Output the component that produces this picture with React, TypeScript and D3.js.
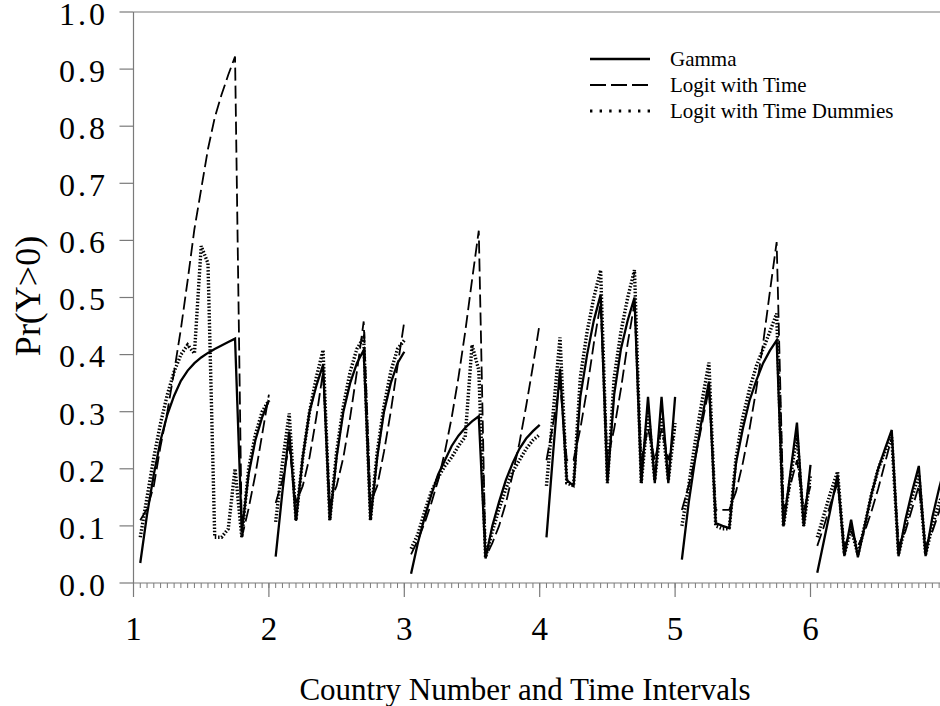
import React from "react";
import * as d3 from "d3";

// ---- data ----
const countries = [1, 2, 3, 4, 5, 6];
const intervals = [0.05, 0.1, 0.15, 0.2, 0.25, 0.3, 0.35, 0.4, 0.45, 0.5, 0.55, 0.6, 0.65, 0.7, 0.75, 0.8, 0.85, 0.9, 0.95, 1.0];

const gammaC1 = [0.035, 0.12, 0.19, 0.25, 0.295, 0.328, 0.354, 0.372, 0.385, 0.395, 0.403, 0.41, 0.416, 0.422, 0.428, 0.09, 0.19, 0.25, 0.29, 0.32];
const gammaC2 = [0.046, 0.16, 0.265, 0.109, 0.22, 0.3, 0.345, 0.382, 0.11, 0.22, 0.3, 0.35, 0.385, 0.408, 0.11, 0.22, 0.3, 0.35, 0.385, 0.405];
const gammaC3 = [0.016, 0.07, 0.115, 0.155, 0.19, 0.215, 0.24, 0.258, 0.272, 0.283, 0.292, 0.043, 0.1, 0.142, 0.18, 0.21, 0.235, 0.253, 0.266, 0.277];
const gammaC4 = [0.08, 0.23, 0.375, 0.18, 0.17, 0.326, 0.4, 0.46, 0.505, 0.175, 0.33, 0.41, 0.46, 0.5, 0.175, 0.326, 0.175, 0.326, 0.175, 0.326];
const gammaC5 = [0.041, 0.14, 0.22, 0.29, 0.353, 0.105, 0.1, 0.096, 0.21, 0.27, 0.32, 0.355, 0.385, 0.407, 0.425, 0.099, 0.19, 0.281, 0.099, 0.207];
const gammaC6 = [0.018, 0.075, 0.132, 0.189, 0.047, 0.111, 0.045, 0.1, 0.155, 0.2, 0.235, 0.268, 0.047, 0.11, 0.16, 0.205, 0.047, 0.115, 0.166, 0.21];

const logitTimeC1 = [0.11, 0.13, 0.17, 0.24, 0.3, 0.37, 0.445, 0.53, 0.62, 0.69, 0.76, 0.815, 0.855, 0.89, 0.922, 0.08, 0.13, 0.19, 0.26, 0.33];
const logitTimeC2 = [0.14, 0.18, 0.24, 0.14, 0.17, 0.22, 0.29, 0.37, 0.14, 0.17, 0.22, 0.29, 0.37, 0.458, 0.14, 0.17, 0.23, 0.3, 0.38, 0.458];
const logitTimeC3 = [0.05, 0.075, 0.105, 0.14, 0.18, 0.23, 0.29, 0.36, 0.44, 0.53, 0.617, 0.045, 0.07, 0.1, 0.14, 0.19, 0.245, 0.31, 0.38, 0.455];
const logitTimeC4 = [0.215, 0.28, 0.35, 0.215, 0.215, 0.27, 0.34, 0.42, 0.49, 0.215, 0.27, 0.34, 0.42, 0.49, 0.215, 0.27, 0.215, 0.27, 0.215, 0.27];
const logitTimeC5 = [0.128, 0.17, 0.22, 0.28, 0.34, 0.128, 0.128, 0.128, 0.16, 0.21, 0.27, 0.34, 0.42, 0.51, 0.597, 0.128, 0.17, 0.215, 0.128, 0.17];
const logitTimeC6 = [0.065, 0.1, 0.14, 0.175, 0.065, 0.09, 0.065, 0.09, 0.125, 0.165, 0.21, 0.255, 0.065, 0.09, 0.13, 0.17, 0.065, 0.09, 0.125, 0.165];

const dummiesC1 = [0.08, 0.15, 0.22, 0.28, 0.33, 0.37, 0.4, 0.417, 0.402, 0.59, 0.56, 0.08, 0.08, 0.095, 0.2, 0.08, 0.2, 0.26, 0.3, 0.32];
const dummiesC2 = [0.107, 0.21, 0.297, 0.11, 0.22, 0.3, 0.36, 0.408, 0.11, 0.23, 0.31, 0.37, 0.41, 0.43, 0.11, 0.23, 0.31, 0.37, 0.41, 0.425];
const dummiesC3 = [0.06, 0.085, 0.125, 0.16, 0.185, 0.205, 0.22, 0.24, 0.256, 0.417, 0.373, 0.045, 0.09, 0.13, 0.165, 0.195, 0.215, 0.235, 0.25, 0.26];
const dummiesC4 = [0.17, 0.3, 0.43, 0.175, 0.17, 0.36, 0.44, 0.5, 0.548, 0.175, 0.36, 0.44, 0.5, 0.548, 0.175, 0.3, 0.18, 0.29, 0.18, 0.28];
const dummiesC5 = [0.1, 0.17, 0.25, 0.32, 0.386, 0.1, 0.095, 0.095, 0.22, 0.29, 0.34, 0.38, 0.41, 0.44, 0.472, 0.1, 0.18, 0.26, 0.1, 0.19];
const dummiesC6 = [0.08, 0.12, 0.16, 0.195, 0.05, 0.095, 0.05, 0.1, 0.155, 0.2, 0.23, 0.255, 0.05, 0.1, 0.15, 0.19, 0.05, 0.1, 0.14, 0.17];

const gamma = [gammaC1, gammaC2, gammaC3, gammaC4, gammaC5, gammaC6];
const logitTime = [logitTimeC1, logitTimeC2, logitTimeC3, logitTimeC4, logitTimeC5, logitTimeC6];
const logitDummies = [dummiesC1, dummiesC2, dummiesC3, dummiesC4, dummiesC5, dummiesC6];

const yTicks = [0, 0.1, 0.2, 0.3, 0.4, 0.5, 0.6, 0.7, 0.8, 0.9, 1.0];
const xTicks = [1, 2, 3, 4, 5, 6];
const legendLabels = ["Gamma", "Logit with Time", "Logit with Time Dummies"];

const FONT = "'Liberation Serif', 'Times New Roman', Times, serif";

export default function App() {
  const W = 940;
  const H = 706;
  const x = d3.scaleLinear().domain([1, 6]).range([133.5, 810.5]);
  const y = d3.scaleLinear().domain([0, 1]).range([583, 12]);
  const xRight = 940;
  const axisColor = "#7a7a7a";

  const line = d3
    .line<[number, number]>()
    .x((d) => x(d[0]))
    .y((d) => y(d[1]));

  const paths = (series: number[][]) =>
    countries.map((c, i) => line(intervals.map((t, j) => [c + t, series[i][j]] as [number, number])) || "");

  const minorTicks = d3.range(0, 120).map((k) => 1 + k * 0.05).filter((v) => x(v) <= xRight);

  const styles = [
    { width: 2.3, dash: "none", legendDash: "none", legendWidth: 2.4 },
    { width: 1.8, dash: "13,5", legendDash: "16,5", legendWidth: 2.2 },
    { width: 3.4, dash: "1.5,1.8", legendDash: "2.4,7.2", legendWidth: 3 },
  ];
  const allSeries = [gamma, logitTime, logitDummies];

  return (
    <svg
      width={W}
      height={H}
      viewBox={`0 0 ${W} ${H}`}
      style={{ position: "fixed", left: 0, top: 0, background: "#fff" }}
    >
      <defs>
        <clipPath id="plotClip">
          <rect x={x(1)} y={0} width={xRight - x(1)} height={y(0) + 1} />
        </clipPath>
      </defs>
      <rect x={0} y={0} width={W} height={H} fill="#fff" />

      {/* frame */}
      <line x1={x(1)} x2={xRight} y1={y(1)} y2={y(1)} stroke={axisColor} strokeWidth={1.2} />
      <line x1={x(1)} x2={x(1)} y1={y(1)} y2={y(0)} stroke={axisColor} strokeWidth={1.2} />
      <line x1={x(1)} x2={xRight} y1={y(0)} y2={y(0)} stroke={axisColor} strokeWidth={1.2} />

      {/* y ticks */}
      {yTicks.map((v) => (
        <g key={"y" + v}>
          <line x1={x(1) - 14} x2={x(1)} y1={y(v)} y2={y(v)} stroke={axisColor} strokeWidth={1.2} />
          <text
            x={108}
            y={y(v)}
            dy="0.4em"
            textAnchor="end"
            fontFamily={FONT}
            fontSize={32}
            letterSpacing={3}
            fill="#000"
          >
            {v.toFixed(1)}
          </text>
        </g>
      ))}

      {/* x minor ticks */}
      {minorTicks.map((v, i) => (
        <line key={"m" + i} x1={x(v)} x2={x(v)} y1={y(0)} y2={y(0) + 5} stroke={axisColor} strokeWidth={1} />
      ))}
      {/* x major ticks */}
      {xTicks.map((v) => (
        <g key={"x" + v}>
          <line x1={x(v)} x2={x(v)} y1={y(0)} y2={y(0) + 14} stroke={axisColor} strokeWidth={1.2} />
          <text x={x(v)} y={640} textAnchor="middle" fontFamily={FONT} fontSize={33} fill="#000">
            {v}
          </text>
        </g>
      ))}

      {/* axis titles */}
      <text x={525} y={700} textAnchor="middle" fontFamily={FONT} fontSize={31} fill="#000">
        Country Number and Time Intervals
      </text>
      <text
        transform={`translate(40,296) rotate(-90)`}
        textAnchor="middle"
        fontFamily={FONT}
        fontSize={36}
        fill="#000"
      >
        Pr(Y&gt;0)
      </text>

      {/* series */}
      <g clipPath="url(#plotClip)">
        {allSeries.map((s, si) =>
          paths(s).map((d, ci) => (
            <path
              key={`s${si}c${ci}`}
              d={d}
              fill="none"
              stroke="#000"
              strokeWidth={styles[si].width}
              strokeDasharray={styles[si].dash}
              strokeLinejoin="miter"
              strokeMiterlimit={4}
            />
          ))
        )}
      </g>

      {/* legend */}
      {legendLabels.map((lab, i) => {
        const ly = 59 + i * 26;
        return (
          <g key={lab}>
            <line
              x1={590}
              x2={650}
              y1={ly}
              y2={ly}
              stroke="#000"
              strokeWidth={styles[i].legendWidth}
              strokeDasharray={styles[i].legendDash}
            />
            <text x={670} y={ly + 7} fontFamily={FONT} fontSize={21} fill="#000">
              {lab}
            </text>
          </g>
        );
      })}
    </svg>
  );
}
